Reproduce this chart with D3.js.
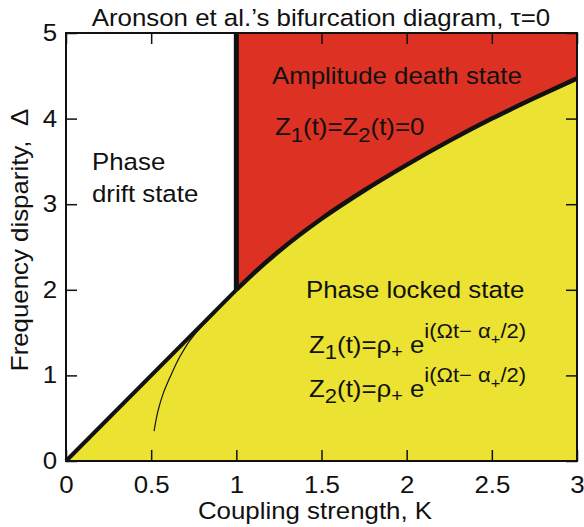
<!DOCTYPE html>
<html><head><meta charset="utf-8">
<script src="https://cdn.jsdelivr.net/npm/d3@7"></script>
<style>body{margin:0;background:#fff}svg text{font-family:"Liberation Sans",Arial,sans-serif;fill:#111;white-space:pre}</style>
</head><body><svg id="c" width="584" height="527"></svg>
<script>
const title = "Aronson et al.\u2019s bifurcation diagram, \u03c4=0";
const xLabel = "Coupling strength, K";
const yLabel = "Frequency disparity,  \u0394";
const xTicks = [0, 0.5, 1, 1.5, 2, 2.5, 3];
const yTicks = [0, 1, 2, 3, 4, 5];
// phase-locking boundary (K<1)
const lockK = [0, 1];
const lockD = [0, 2];
// amplitude-death / phase-locked boundary (K>1)
const deathK = [1, 1.1, 1.25, 1.5, 1.75, 2, 2.25, 2.5, 2.75, 3];
const deathD = [2, 2.19, 2.45, 2.83, 3.16, 3.46, 3.74, 4.0, 4.24, 4.47];
// vertical boundary at K = 1
const vertK = [1, 1];
const vertD = [2, 5];
// thin curve inside locked region
const thinK = [0.517, 0.542, 0.571, 0.611, 0.669, 0.728, 0.787, 0.836, 0.88];
const thinD = [0.35, 0.60, 0.79, 0.98, 1.22, 1.41, 1.55, 1.65, 1.74];

const svg = d3.select("#c");
const L = 66, R = 577, T = 33, B = 461;
const SX = 1.1;           // horizontal stretch of the lettering
const x = d3.scaleLinear().domain([0, 3]).range([L, R]);
const y = d3.scaleLinear().domain([0, 5]).range([B, T]);
const line = d3.line().x(d => x(d[0])).y(d => y(d[1]));
const pts = (a, b) => a.map((v, i) => [v, b[i]]);

const lock = pts(lockK, lockD), death = pts(deathK, deathD);
const xMax = d3.max(xTicks), yMax = d3.max(yTicks);
// yellow region
const yellow = [[0, 0], ...lock, ...death.slice(1), [xMax, 0]];
svg.append("path").attr("d", line(yellow) + "Z").attr("fill", "#ebe232");
// red region
const red = [[vertK[0], vertD[1]], [xMax, yMax], ...death.slice().reverse()];
svg.append("path").attr("d", line(red) + "Z").attr("fill", "#dd3223");

// thin curve
svg.append("path").attr("d", d3.line().curve(d3.curveMonotoneY).x(d => x(d[0])).y(d => y(d[1]))(pts(thinK, thinD)))
  .attr("fill", "none").attr("stroke", "#111").attr("stroke-width", 1.2);

// thick boundaries
svg.append("path").attr("d", line(lock)).attr("fill", "none").attr("stroke", "#111").attr("stroke-width", 4);
svg.append("path").attr("d", d3.line().curve(d3.curveMonotoneX).x(d => x(d[0])).y(d => y(d[1]))(death))
  .attr("fill", "none").attr("stroke", "#111").attr("stroke-width", 4.5);
svg.append("path").attr("d", line(pts(vertK, vertD))).attr("fill", "none").attr("stroke", "#111").attr("stroke-width", 5);

// axes (inward ticks, all four sides)
const fs = 23.5;
const ax = (g, gen) => { g.call(gen); g.select(".domain").remove(); g.selectAll("line").attr("stroke", "#111").attr("stroke-width", 1.5); };
svg.append("g").attr("transform", `translate(0,${B})`).call(g => ax(g, d3.axisBottom(x).tickValues(xTicks).tickSize(-11).tickPadding(15).tickFormat(d3.format("~g"))))
  .selectAll("text").attr("font-size", fs).attr("fill", "#111").attr("font-family", "Liberation Sans, Arial, sans-serif").attr("transform", `scale(${SX},1)`);
svg.append("g").attr("transform", `translate(0,${T})`).call(g => ax(g, d3.axisTop(x).tickValues(xTicks).tickSize(-11).tickFormat("")));
svg.append("g").attr("transform", `translate(${L},0)`).call(g => ax(g, d3.axisLeft(y).tickValues(yTicks).tickSize(-11).tickPadding(8).tickFormat(d3.format("~g"))))
  .selectAll("text").attr("font-size", fs).attr("fill", "#111").attr("font-family", "Liberation Sans, Arial, sans-serif").attr("transform", `scale(${SX},1)`);
svg.append("g").attr("transform", `translate(${R},0)`).call(g => ax(g, d3.axisRight(y).tickValues(yTicks).tickSize(-11).tickFormat("")));
svg.append("rect").attr("x", L).attr("y", T).attr("width", R - L).attr("height", B - T)
  .attr("fill", "none").attr("stroke", "#111").attr("stroke-width", 2);

// text helper with horizontal stretch
const txt = (tx, ty, anchor, rot) => svg.append("text")
  .attr("transform", `translate(${tx},${ty})${rot ? " rotate(" + rot + ")" : ""} scale(${SX},1)`)
  .attr("text-anchor", anchor).attr("font-size", fs);

txt(321, 26, "middle").text(title);
txt(315, 519, "middle").text(xLabel);
txt(28, 240, "middle", -90).text(yLabel);

// annotations
const ann = (xx, yy, parts) => {
  const t = txt(xx, yy, "start");
  parts.forEach(p => t.append("tspan").attr("dy", p.dy || 0).attr("font-size", p.fs || fs).text(p.t));
};
ann(92, 170, [{t: "Phase"}]);
ann(92, 202, [{t: "drift state"}]);
ann(272, 84, [{t: "Amplitude death state"}]);
ann(275, 135, [{t: "Z"}, {t: "1", dy: 7, fs: 20}, {t: "(t)=Z", dy: -7}, {t: "2", dy: 7, fs: 20}, {t: "(t)=0", dy: -7}]);
ann(306, 298, [{t: "Phase locked state"}]);
const eq = (yy, n) => ann(309, yy, [{t: "Z"}, {t: n, dy: 6, fs: 20}, {t: "(t)=\u03c1", dy: -6}, {t: "+", dy: 5, fs: 18},
  {t: " e", dy: -5}, {t: "i(\u03a9t\u2212 \u03b1", dy: -15, fs: 20}, {t: "+", dy: 6, fs: 15}, {t: "/2)", dy: -6, fs: 20}]);
eq(353, "1");
eq(397, "2");
</script></body></html>
